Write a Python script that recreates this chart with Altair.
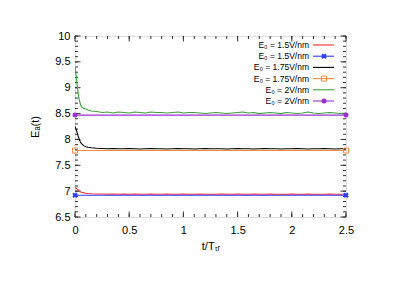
import altair as alt
import pandas as pd

# ---- data ----
T = [0, 0.01, 0.02, 0.03, 0.04, 0.05, 0.06, 0.08, 0.1, 0.12, 0.15, 0.2, 0.25,
     0.3, 0.35, 0.4, 0.45, 0.5, 0.55, 0.6, 0.65, 0.7, 0.75, 0.8, 0.85, 0.9, 0.95,
     1.0, 1.05, 1.1, 1.15, 1.2, 1.25, 1.3, 1.35, 1.4, 1.45, 1.5, 1.55, 1.6, 1.65,
     1.7, 1.75, 1.8, 1.85, 1.9, 1.95, 2.0, 2.05, 2.1, 2.15, 2.2, 2.25, 2.3, 2.35,
     2.4, 2.45, 2.5]
red = [7.07, 7.06, 7.04, 7.02, 7.00, 6.99, 6.98, 6.97, 6.96, 6.955, 6.95, 6.945, 6.945,
       6.94, 6.945, 6.94, 6.945, 6.94, 6.945, 6.94, 6.94, 6.945, 6.94, 6.94, 6.945, 6.94, 6.94,
       6.945, 6.94, 6.94, 6.945, 6.94, 6.94, 6.94, 6.945, 6.94, 6.94, 6.945, 6.94, 6.94, 6.945,
       6.94, 6.94, 6.945, 6.94, 6.94, 6.94, 6.945, 6.94, 6.94, 6.945, 6.94, 6.94, 6.94, 6.945,
       6.94, 6.94, 6.94]
black = [8.25, 8.20, 8.13, 8.06, 8.00, 7.95, 7.92, 7.88, 7.86, 7.85, 7.84, 7.83, 7.825,
         7.82, 7.825, 7.82, 7.82, 7.825, 7.82, 7.815, 7.82, 7.825, 7.82, 7.82, 7.815, 7.82, 7.825,
         7.82, 7.82, 7.815, 7.82, 7.825, 7.82, 7.82, 7.82, 7.815, 7.82, 7.825, 7.82, 7.82, 7.815,
         7.82, 7.825, 7.82, 7.82, 7.815, 7.82, 7.82, 7.825, 7.82, 7.815, 7.82, 7.82, 7.825, 7.82,
         7.815, 7.82, 7.82]
green = [9.40, 9.25, 9.05, 8.88, 8.76, 8.68, 8.63, 8.60, 8.59, 8.57, 8.55, 8.54, 8.52,
         8.53, 8.51, 8.53, 8.52, 8.51, 8.53, 8.52, 8.51, 8.53, 8.52, 8.52, 8.51, 8.52, 8.53,
         8.51, 8.52, 8.52, 8.51, 8.50, 8.51, 8.52, 8.51, 8.50, 8.51, 8.52, 8.53, 8.51, 8.52,
         8.50, 8.51, 8.52, 8.51, 8.50, 8.52, 8.51, 8.50, 8.51, 8.53, 8.51, 8.50, 8.51, 8.52,
         8.51, 8.50, 8.51]
T_flat = [0, 2.5]
blue_flat = [6.92, 6.92]
orange_flat = [7.785, 7.785]
purple_flat = [8.47, 8.47]

keys = ["red", "blue", "black", "orange", "green", "purple"]
colors = ["#ff2a2a", "#2a3cff", "#000000", "#ff8a3d", "#3da03d", "#9b30d0"]
labels = ["E₀ = 1.5V/nm", "E₀ = 1.5V/nm", "E₀ = 1.75V/nm",
          "E₀ = 1.75V/nm", "E₀ = 2V/nm", "E₀ = 2V/nm"]
markers = [None, "cross", None, "square", None, "circle"]

x_ticks = [0, 0.5, 1, 1.5, 2, 2.5]
x_minor = [round(i * 0.1, 2) for i in range(26)]
y_ticks = [6.5, 7, 7.5, 8, 8.5, 9, 9.5, 10]
y_minor = [round(6.5 + i * 0.1, 2) for i in range(36)]

W, H = 271, 181
FONT = "Liberation Sans"

curves = pd.concat([
    pd.DataFrame({"t": T, "v": red, "k": "red"}),
    pd.DataFrame({"t": T, "v": black, "k": "black"}),
    pd.DataFrame({"t": T, "v": green, "k": "green"}),
])
flats = pd.concat([
    pd.DataFrame({"t": T_flat, "v": blue_flat, "k": "blue"}),
    pd.DataFrame({"t": T_flat, "v": orange_flat, "k": "orange"}),
    pd.DataFrame({"t": T_flat, "v": purple_flat, "k": "purple"}),
])

xs = alt.Scale(domain=[0, 2.5], nice=False, zero=False, padding=0)
ys = alt.Scale(domain=[6.5, 10], nice=False, zero=False, padding=0)
cs = alt.Scale(domain=keys, range=colors)

x_axis = alt.Axis(values=x_ticks, ticks=False, domain=False, grid=False,
                  format="~g", labelOverlap=False, labelFlush=False,
                  labelPadding=7, title="t/Tₜᵣ", titlePadding=5,
                  labelFontSize=11, titleFontSize=11,
                  titleFontWeight="normal", labelFont=FONT, titleFont=FONT,
                  labelColor="#000", titleColor="#000")
y_axis = alt.Axis(values=y_ticks, ticks=False, domain=False, grid=False,
                  format="~g", labelOverlap=False, labelFlush=False,
                  labelPadding=5, title="Eₐ(t)",
                  titlePadding=14, labelFontSize=11, titleFontSize=11,
                  titleFontWeight="normal", labelFont=FONT, titleFont=FONT,
                  labelColor="#000", titleColor="#000")

def X(f="t"):
    return alt.X(f + ":Q", scale=xs, axis=x_axis)

def Y(f="v"):
    return alt.Y(f + ":Q", scale=ys, axis=y_axis)

C = alt.Color("k:N", scale=cs, legend=None)

curve_layer = alt.Chart(curves).mark_line(strokeWidth=1.1, clip=True).encode(
    x=X(), y=Y(), color=C, detail="k:N")
flat_layer = alt.Chart(flats).mark_line(strokeWidth=1.1).encode(
    x=X(), y=Y(), color=C, detail="k:N")

def marker_mark(chart, shape):
    if shape == "cross":
        return chart.mark_point(shape="cross", angle=45, filled=True, size=30, opacity=1)
    if shape == "square":
        return chart.mark_point(shape="square", filled=False, size=25, strokeWidth=1, opacity=1)
    return chart.mark_point(shape="circle", filled=True, size=25, opacity=1)

pt_layers = []
for k, m in zip(keys, markers):
    if m:
        pt_layers.append(marker_mark(alt.Chart(flats[flats.k == k]), m).encode(
            x=X(), y=Y(), color=C))

# inward ticks on all four sides (tick marks centred half a length inside)
tc = "#333"
def xtick_layer(vals, ln):
    d = pd.DataFrame({"t": vals})
    b = alt.Chart(d).mark_tick(color=tc, thickness=1, size=ln, opacity=1).encode(
        x=X(), y=alt.value(H - ln / 2))
    t = alt.Chart(d).mark_tick(color=tc, thickness=1, size=ln, opacity=1).encode(
        x=X(), y=alt.value(ln / 2))
    return [b, t]

def ytick_layer(vals, ln):
    d = pd.DataFrame({"v": vals})
    l = alt.Chart(d).mark_tick(color=tc, thickness=1, size=ln, opacity=1).encode(
        y=Y(), x=alt.value(ln / 2))
    r = alt.Chart(d).mark_tick(color=tc, thickness=1, size=ln, opacity=1).encode(
        y=Y(), x=alt.value(W - ln / 2))
    return [l, r]

ticks = (xtick_layer(x_minor, 3) + xtick_layer(x_ticks, 5.5)
         + ytick_layer(y_minor, 3) + ytick_layer(y_ticks, 5.5))

# legend (label on the left, sample on the right), one row per series
leg_layers = []
for i, (k, lab, m) in enumerate(zip(keys, labels, markers)):
    row = alt.Chart(pd.DataFrame({"k": [k], "label": [lab]}))
    py = 9 + i * 11.2
    leg_layers.append(row.mark_rule(strokeWidth=1.1).encode(
        x=alt.value(238), x2=alt.value(259), y=alt.value(py), color=C))
    if m:
        leg_layers.append(marker_mark(row, m).encode(
            x=alt.value(249), y=alt.value(py), color=C))
    leg_layers.append(row.mark_text(align="right", baseline="middle", fontSize=8.5,
                                    font=FONT, color="#000").encode(
        x=alt.value(234), y=alt.value(py), text="label:N"))

chart = alt.layer(
    *ticks, curve_layer, flat_layer, *pt_layers, *leg_layers
).properties(
    width=W, height=H,
    autosize=alt.AutoSizeParams(type="none"),
    padding={"left": 67, "top": 28, "right": 44, "bottom": 56},
).configure_view(stroke="#333", strokeWidth=1).configure(background="white")

chart.save("out.html", embed_options={"renderer": "svg", "actions": False})
